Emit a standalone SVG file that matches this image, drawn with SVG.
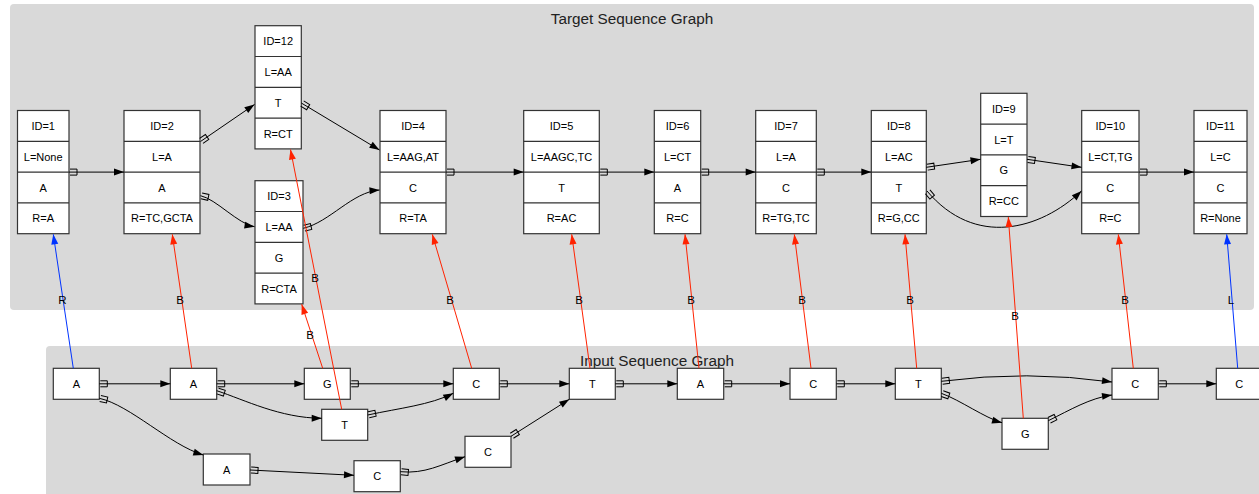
<svg xmlns="http://www.w3.org/2000/svg" width="1259" height="494" viewBox="0 0 1259 494">
<style>
text{font-family:"Liberation Sans",Arial,Helvetica,sans-serif;fill:#000;}
.nt{font-size:11px;text-anchor:middle;}
.title{font-size:15.3px;text-anchor:middle;fill:#222;}
.lbl{font-size:11.5px;text-anchor:middle;}
.cl{fill:#d9d9d9;stroke:none;}
.box{fill:#fff;stroke:#333;stroke-width:1.2;}
.sep{stroke:#333;stroke-width:1.2;}
.e{fill:none;stroke:#000;stroke-width:1;marker-start:url(#tail);marker-end:url(#ah);}
.r{fill:none;stroke:#ff2200;stroke-width:1;marker-end:url(#ahr);}
.b{fill:none;stroke:#0033ff;stroke-width:1;marker-end:url(#ahb);}
</style>
<defs>
<marker id="ah" markerUnits="userSpaceOnUse" markerWidth="12" markerHeight="10" refX="10" refY="4" orient="auto" overflow="visible"><path d="M0,0.5 L10,4 L0,7.5 Z" fill="#000"/></marker>
<marker id="ahr" markerUnits="userSpaceOnUse" markerWidth="12" markerHeight="10" refX="10" refY="4" orient="auto" overflow="visible"><path d="M0,0.5 L10,4 L0,7.5 Z" fill="#ff2200"/></marker>
<marker id="ahb" markerUnits="userSpaceOnUse" markerWidth="12" markerHeight="10" refX="10" refY="4" orient="auto" overflow="visible"><path d="M0,0.5 L10,4 L0,7.5 Z" fill="#0033ff"/></marker>
<marker id="tail" markerUnits="userSpaceOnUse" markerWidth="10" markerHeight="10" refX="0" refY="5" orient="auto" overflow="visible"><path d="M1,2 H8 V8 H1" fill="none" stroke="#000" stroke-width="1"/></marker>
</defs>

<g id="clusters">
<rect class="cl" x="10" y="4" width="1244" height="306" rx="4"/>
<text class="title" x="632" y="24">Target Sequence Graph</text>
<rect class="cl" x="46" y="346" width="1220" height="160" rx="4"/>
<text class="title" x="657" y="366">Input Sequence Graph</text>
</g>

<g id="t1"><rect class="box" x="17.5" y="110.5" width="51.5" height="123.2"/><path class="sep" d="M17.5,141.3H69M17.5,172.1H69M17.5,202.9H69"/>
<text class="nt" x="43.2" y="130">ID=1</text><text class="nt" x="43.2" y="160.8">L=None</text><text class="nt" x="43.2" y="191.6">A</text><text class="nt" x="43.2" y="222.4">R=A</text></g>
<g id="t2"><rect class="box" x="124" y="110.5" width="76" height="123.2"/><path class="sep" d="M124,141.3H200M124,172.1H200M124,202.9H200"/>
<text class="nt" x="162" y="130">ID=2</text><text class="nt" x="162" y="160.8">L=A</text><text class="nt" x="162" y="191.6">A</text><text class="nt" x="162" y="222.4">R=TC,GCTA</text></g>
<g id="t12"><rect class="box" x="255" y="25.7" width="46.3" height="123.2"/><path class="sep" d="M255,56.5H301.3M255,87.3H301.3M255,118.1H301.3"/>
<text class="nt" x="278.2" y="45.2">ID=12</text><text class="nt" x="278.2" y="76">L=AA</text><text class="nt" x="278.2" y="106.8">T</text><text class="nt" x="278.2" y="137.6">R=CT</text></g>
<g id="t3"><rect class="box" x="255" y="180.7" width="48" height="123.2"/><path class="sep" d="M255,211.5H303M255,242.3H303M255,273.1H303"/>
<text class="nt" x="279" y="200.2">ID=3</text><text class="nt" x="279" y="231">L=AA</text><text class="nt" x="279" y="261.8">G</text><text class="nt" x="279" y="292.6">R=CTA</text></g>
<g id="t4"><rect class="box" x="380" y="110.5" width="66" height="123.2"/><path class="sep" d="M380,141.3H446M380,172.1H446M380,202.9H446"/>
<text class="nt" x="413" y="130">ID=4</text><text class="nt" x="413" y="160.8">L=AAG,AT</text><text class="nt" x="413" y="191.6">C</text><text class="nt" x="413" y="222.4">R=TA</text></g>
<g id="t5"><rect class="box" x="523.7" y="110.5" width="75.6" height="123.2"/><path class="sep" d="M523.7,141.3H599.3M523.7,172.1H599.3M523.7,202.9H599.3"/>
<text class="nt" x="561.5" y="130">ID=5</text><text class="nt" x="561.5" y="160.8">L=AAGC,TC</text><text class="nt" x="561.5" y="191.6">T</text><text class="nt" x="561.5" y="222.4">R=AC</text></g>
<g id="t6"><rect class="box" x="654.3" y="110.5" width="46.4" height="123.2"/><path class="sep" d="M654.3,141.3H700.7M654.3,172.1H700.7M654.3,202.9H700.7"/>
<text class="nt" x="677.5" y="130">ID=6</text><text class="nt" x="677.5" y="160.8">L=CT</text><text class="nt" x="677.5" y="191.6">A</text><text class="nt" x="677.5" y="222.4">R=C</text></g>
<g id="t7"><rect class="box" x="755.7" y="110.5" width="60.6" height="123.2"/><path class="sep" d="M755.7,141.3H816.3M755.7,172.1H816.3M755.7,202.9H816.3"/>
<text class="nt" x="786" y="130">ID=7</text><text class="nt" x="786" y="160.8">L=A</text><text class="nt" x="786" y="191.6">C</text><text class="nt" x="786" y="222.4">R=TG,TC</text></g>
<g id="t8"><rect class="box" x="871.3" y="110.5" width="55" height="123.2"/><path class="sep" d="M871.3,141.3H926.3M871.3,172.1H926.3M871.3,202.9H926.3"/>
<text class="nt" x="898.8" y="130">ID=8</text><text class="nt" x="898.8" y="160.8">L=AC</text><text class="nt" x="898.8" y="191.6">T</text><text class="nt" x="898.8" y="222.4">R=G,CC</text></g>
<g id="t9"><rect class="box" x="980.7" y="93.3" width="46.3" height="123.2"/><path class="sep" d="M980.7,124.1H1027M980.7,154.9H1027M980.7,185.7H1027"/>
<text class="nt" x="1003.8" y="112.8">ID=9</text><text class="nt" x="1003.8" y="143.6">L=T</text><text class="nt" x="1003.8" y="174.4">G</text><text class="nt" x="1003.8" y="205.2">R=CC</text></g>
<g id="t10"><rect class="box" x="1081.7" y="110.5" width="57.3" height="123.2"/><path class="sep" d="M1081.7,141.3H1139M1081.7,172.1H1139M1081.7,202.9H1139"/>
<text class="nt" x="1110.3" y="130">ID=10</text><text class="nt" x="1110.3" y="160.8">L=CT,TG</text><text class="nt" x="1110.3" y="191.6">C</text><text class="nt" x="1110.3" y="222.4">R=C</text></g>
<g id="t11"><rect class="box" x="1194" y="110.5" width="53" height="123.2"/><path class="sep" d="M1194,141.3H1247M1194,172.1H1247M1194,202.9H1247"/>
<text class="nt" x="1220.5" y="130">ID=11</text><text class="nt" x="1220.5" y="160.8">L=C</text><text class="nt" x="1220.5" y="191.6">C</text><text class="nt" x="1220.5" y="222.4">R=None</text></g>

<g id="i_a1"><rect class="box" x="53.3" y="368.3" width="46" height="31"/><text class="nt" x="76.3" y="387.8">A</text></g>
<g id="i_a2"><rect class="box" x="170.3" y="368.3" width="46.4" height="31"/><text class="nt" x="193.5" y="387.8">A</text></g>
<g id="i_g1"><rect class="box" x="304.3" y="368.3" width="46" height="31"/><text class="nt" x="327.3" y="387.8">G</text></g>
<g id="i_c1"><rect class="box" x="453.3" y="368.3" width="46" height="31"/><text class="nt" x="476.3" y="387.8">C</text></g>
<g id="i_t1"><rect class="box" x="321.7" y="409.3" width="46" height="31"/><text class="nt" x="344.7" y="428.8">T</text></g>
<g id="i_a3"><rect class="box" x="203.3" y="454" width="46.7" height="31"/><text class="nt" x="226.7" y="473.5">A</text></g>
<g id="i_c2"><rect class="box" x="354" y="460.7" width="46.3" height="31"/><text class="nt" x="377.2" y="480.2">C</text></g>
<g id="i_c3"><rect class="box" x="465" y="436.3" width="46" height="31"/><text class="nt" x="488" y="455.8">C</text></g>
<g id="i_t2"><rect class="box" x="569.3" y="368.3" width="46" height="31"/><text class="nt" x="592.3" y="387.8">T</text></g>
<g id="i_a4"><rect class="box" x="677.3" y="368.3" width="46.4" height="31"/><text class="nt" x="700.5" y="387.8">A</text></g>
<g id="i_c4"><rect class="box" x="790" y="368.3" width="46.3" height="31"/><text class="nt" x="813.2" y="387.8">C</text></g>
<g id="i_t3"><rect class="box" x="895.3" y="368.3" width="46" height="31"/><text class="nt" x="918.3" y="387.8">T</text></g>
<g id="i_g2"><rect class="box" x="1002" y="418.3" width="46.3" height="31"/><text class="nt" x="1025.2" y="437.8">G</text></g>
<g id="i_c5"><rect class="box" x="1112" y="368.3" width="46.3" height="31"/><text class="nt" x="1135.2" y="387.8">C</text></g>
<g id="i_c6"><rect class="box" x="1216.3" y="368.3" width="46" height="31"/><text class="nt" x="1239.3" y="387.8">C</text></g>

<g id="connectors">
<path class="e" d="M69,172.1 H124"/>
<path class="e" d="M200.5,141.5 L254.5,104.5"/>
<path class="e" d="M200.5,195.7 C216,199 238,224 254.5,226.7"/>
<path class="e" d="M301.3,103 L379.5,150"/>
<path class="e" d="M303.3,228.3 C330,222 352,192 379.5,190"/>
<path class="e" d="M446,172.1 H523.7"/>
<path class="e" d="M599.3,172.1 H654.3"/>
<path class="e" d="M700.7,172.1 H755.7"/>
<path class="e" d="M816.3,172.1 H871.3"/>
<path class="e" d="M926.3,167.3 L980.5,159.3"/>
<path class="e" d="M1027,159.3 L1081.5,167.3"/>
<path class="e" d="M927,191 C975,248 1040,230 1081.5,191"/>
<path class="e" d="M1139,172.1 H1194"/>

<path class="e" d="M99.3,383.8 H170.3"/>
<path class="e" d="M216.7,383.8 H304.3"/>
<path class="e" d="M350.3,383.8 H453.3"/>
<path class="e" d="M499.3,383.8 H569.3"/>
<path class="e" d="M615.3,383.8 H677.3"/>
<path class="e" d="M723.7,383.8 H790"/>
<path class="e" d="M836.3,383.8 H895.3"/>
<path class="e" d="M941.3,381.3 Q1027,370 1112,382"/>
<path class="e" d="M1158.3,383.8 H1216.3"/>
<path class="e" d="M216.7,390.7 C245,400 280,418 321.7,418.3"/>
<path class="e" d="M367.7,415 C400,408 430,405 453.3,393.3"/>
<path class="e" d="M99.3,398.3 C130,405 170,445 203.3,455"/>
<path class="e" d="M250,470 L354,475.3"/>
<path class="e" d="M400.3,471.7 C425,474 440,465 465,456.7"/>
<path class="e" d="M511,436.3 L569.3,399.3"/>
<path class="e" d="M941.3,393.3 C960,400 985,418 1002,422.7"/>
<path class="e" d="M1048.3,420.7 C1070,410 1090,398 1112,395"/>

<path class="b" d="M73.3,368.3 L53.3,234.3"/>
<path class="r" d="M191.7,368.3 L172.3,234.3"/>
<path class="r" d="M322.7,368.3 L301.7,304.3"/>
<path class="r" d="M341.7,409.3 L290.5,149.5"/>
<path class="r" d="M471.7,368.3 L432.3,234.3"/>
<path class="r" d="M590,368.3 L571.7,234.3"/>
<path class="r" d="M699,368.3 L685,234.3"/>
<path class="r" d="M811,368.3 L794.3,234.3"/>
<path class="r" d="M916.7,368.3 L905,234.3"/>
<path class="r" d="M1023.3,418.3 L1008.3,217"/>
<path class="r" d="M1133.3,368.3 L1118.3,234.3"/>
<path class="b" d="M1237.7,368.3 L1226.7,234.3"/>
<text class="lbl" x="62.3" y="304">R</text>
<text class="lbl" x="180" y="304">B</text>
<text class="lbl" x="310" y="339">B</text>
<text class="lbl" x="315" y="282">B</text>
<text class="lbl" x="450" y="304">B</text>
<text class="lbl" x="579" y="304">B</text>
<text class="lbl" x="691" y="304">B</text>
<text class="lbl" x="802" y="304">B</text>
<text class="lbl" x="910" y="304">B</text>
<text class="lbl" x="1015" y="320">B</text>
<text class="lbl" x="1125" y="304">B</text>
<text class="lbl" x="1231" y="304">L</text>
</g>
</svg>
